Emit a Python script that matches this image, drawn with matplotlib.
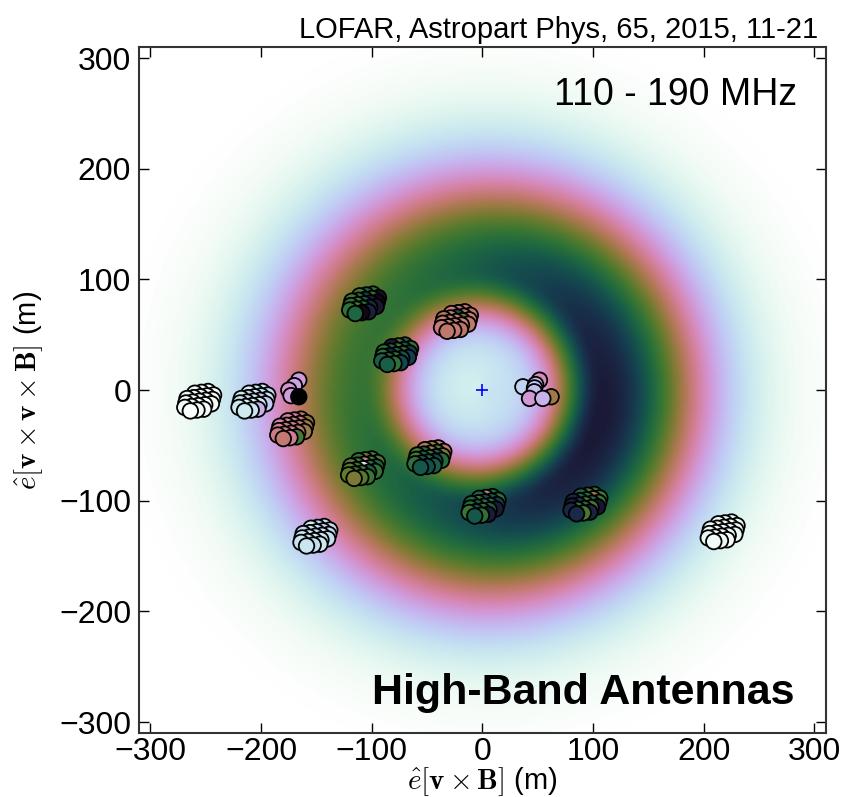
import numpy as np
import matplotlib
matplotlib.use("Agg")
import matplotlib.pyplot as plt

plt.rcParams['font.family'] = ['Liberation Sans', 'DejaVu Sans']
plt.rcParams['mathtext.fontset'] = 'cm'

# LDF fit parameters (shower plane, metres)
ring_radius = 108.0
width_inner = 31.0
width_outer = 68.0
core_floor = 0.15
amplitude = 0.76
asymmetry = 0.08
asym_angle = np.deg2rad(-15.0)

# station centres in the shower plane (m)
station_x = [-256, -207, -172, -107, -78, -24, -108, -48, 1, 93, -151, 217]
station_y = [-10, -10, -35, 78, 32, 62, -71, -61, -105, -103, -132, -128]

# HBA tile offsets within a station (m), back row first
tile_dx = [8, 2, -4,
           13, 7, 1, -5, -11,
           12, 6, 0, -6, -12,
           11, 5, -1, -7, -13,
           4, -2, -8]
tile_dy = [8.8, 8.0, 7.2,
           5.6, 4.8, 4.0, 3.2, 2.4,
           1.6, 0.8, 0.0, -0.8, -1.6,
           -2.4, -3.2, -4.0, -4.8, -5.6,
           -7.2, -8.0, -8.8]

# normalised pulse energy per tile, same order as tile offsets
station_vals = [
    [0.03, 0.02, 0.04,  0.02, 0.03, 0.05, 0.02, 0.04,  0.03, 0.02, 0.04, 0.03, 0.02,
     0.03, 0.01, 0.02, 0.04, 0.03,  0.02, 0.03, 0.01],
    [0.12, 0.14, 0.10,  0.16, 0.13, 0.11, 0.18, 0.12,  0.14, 0.22, 0.12, 0.15, 0.13,
     0.20, 0.12, 0.14, 0.10, 0.12,  0.26, 0.13, 0.11],
    [0.45, 0.40, 0.38,  0.52, 0.42, 0.44, 0.40, 0.38,  0.50, 0.43, 0.41, 0.44, 0.40,
     0.50, 0.46, 0.40, 0.42, 0.42,  0.62, 0.40, 0.44],
    [0.66, 0.70, 0.62,  0.92, 0.65, 0.80, 0.68, 0.63,  0.95, 0.88, 0.72, 0.64, 0.66,
     0.90, 0.85, 0.68, 0.62, 0.66,  0.86, 0.95, 0.70],
    [0.70, 0.64, 0.88,  0.66, 0.74, 0.62, 0.70, 0.68,  0.80, 0.65, 0.72, 0.85, 0.66,
     0.80, 0.75, 0.65, 0.70, 0.72,  0.78, 0.66, 0.72],
    [0.44, 0.46, 0.42,  0.45, 0.47, 0.75, 0.44, 0.48,  0.43, 0.60, 0.45, 0.46, 0.44,
     0.45, 0.42, 0.44, 0.46, 0.43,  0.46, 0.44, 0.45],
    [0.62, 0.58, 0.66,  0.60, 0.64, 0.40, 0.62, 0.58,  0.70, 0.66, 0.12, 0.64, 0.60,
     0.65, 0.72, 0.62, 0.66, 0.58,  0.64, 0.60, 0.55],
    [0.45, 0.52, 0.48,  0.45, 0.60, 0.50, 0.68, 0.62,  0.55, 0.72, 0.65, 0.70, 0.62,
     0.68, 0.78, 0.70, 0.75, 0.66,  0.72, 0.76, 0.74],
    [0.68, 0.45, 0.70,  0.66, 0.72, 0.75, 0.64, 0.70,  0.80, 0.70, 0.66, 0.72, 0.68,
     0.88, 0.72, 0.65, 0.75, 0.64,  0.88, 0.66, 0.74],
    [0.66, 0.62, 0.70,  0.64, 0.50, 0.68, 0.72, 0.85,  0.65, 0.70, 0.62, 0.80, 0.88,
     0.90, 0.62, 0.68, 0.66, 0.85,  0.86, 0.62, 0.84],
    [0.14, 0.18, 0.12,  0.16, 0.20, 0.15, 0.12, 0.18,  0.16, 0.13, 0.17, 0.14, 0.12,
     0.15, 0.13, 0.11, 0.16, 0.14,  0.12, 0.15, 0.13],
    [0.04, 0.06, 0.03,  0.05, 0.04, 0.03, 0.06, 0.04,  0.05, 0.03, 0.04, 0.02, 0.03,
     0.05, 0.04, 0.02, 0.03, 0.05,  0.02, 0.04, 0.03],
]

# partially equipped stations, positions per antenna
small_x = [-166, -170, -175, -173, -166, 51.5, 62, 36.5, 48, 47, 46.7, 42.5, 54.5]
small_y = [9, 4, 0, -5, -6, 9, -6, 3, 5, 2, -1.5, -7.5, -7.5]
small_vals = [0.30, 0.28, 0.32, 0.30, 1.00, 0.35, 0.50, 0.18, 0.22, 0.21, 0.23, 0.31, 0.25]

# background LDF map
grid = np.linspace(-310, 310, 600)
X, Y = np.meshgrid(grid, grid)
R = np.hypot(X, Y)
PHI = np.arctan2(Y, X)
inner = core_floor + (1 - core_floor) * np.exp(-(R - ring_radius) ** 2 / (2 * width_inner ** 2))
outer = np.exp(-(R - ring_radius) ** 2 / (2 * width_outer ** 2))
ldf = amplitude * np.where(R < ring_radius, inner, outer) * (1 + asymmetry * np.cos(PHI - asym_angle)) ** 2

ant_x, ant_y, ant_v = [], [], []
for sx, sy, vals in zip(station_x, station_y, station_vals):
    for dx, dy, v in zip(tile_dx, tile_dy, vals):
        ant_x.append(sx + dx)
        ant_y.append(sy + dy)
        ant_v.append(v)
ant_x += small_x
ant_y += small_y
ant_v += small_vals

fig = plt.figure(figsize=(8.45, 7.97), dpi=100)
ax = fig.add_axes([0.165, 0.080, 0.812, 0.861])

ax.imshow(ldf, extent=[-310, 310, -310, 310], origin='lower', cmap='cubehelix_r',
          vmin=0, vmax=1, interpolation='bilinear', zorder=1)
ax.scatter(ant_x, ant_y, c=ant_v, cmap='cubehelix_r', vmin=0, vmax=1, s=125,
           edgecolors='black', linewidths=1.3, zorder=3)
ax.plot(0, 0, '+', color='blue', markersize=9, markeredgewidth=1.2, zorder=4)

ax.set_xlim(-310, 310)
ax.set_ylim(-310, 310)
ax.set_aspect('equal')
ax.set_xticks(np.arange(-300, 301, 100))
ax.set_yticks(np.arange(-300, 301, 100))
ax.tick_params(direction='in', top=True, right=True, length=7, width=1,
               labelsize=23)
ax.tick_params(axis='x', pad=3)
ax.tick_params(axis='y', pad=6)
for sp in ax.spines.values():
    sp.set_linewidth(1.5)
    sp.set_color('#333333')

ax.set_xlabel(r'$\hat{e}[\mathbf{v}\times\mathbf{B}]$ (m)', fontsize=21)
ax.xaxis.set_label_coords(0.5, -0.046)
ax.set_ylabel(r'$\hat{e}[\mathbf{v}\times\mathbf{v}\times\mathbf{B}]$ (m)', fontsize=21)
ax.yaxis.set_label_coords(-0.137, 0.5)

ax.text(0.958, 0.93, '110 - 190 MHz', transform=ax.transAxes, ha='right', va='center',
        fontsize=27)
ax.text(0.955, 0.058, 'High-Band Antennas', transform=ax.transAxes, ha='right', va='center',
        fontsize=31, fontweight='bold')
fig.text(0.968, 0.962, 'LOFAR, Astropart Phys, 65, 2015, 11-21', ha='right', va='center',
         fontsize=21)

fig.savefig('out.png', dpi=100)
